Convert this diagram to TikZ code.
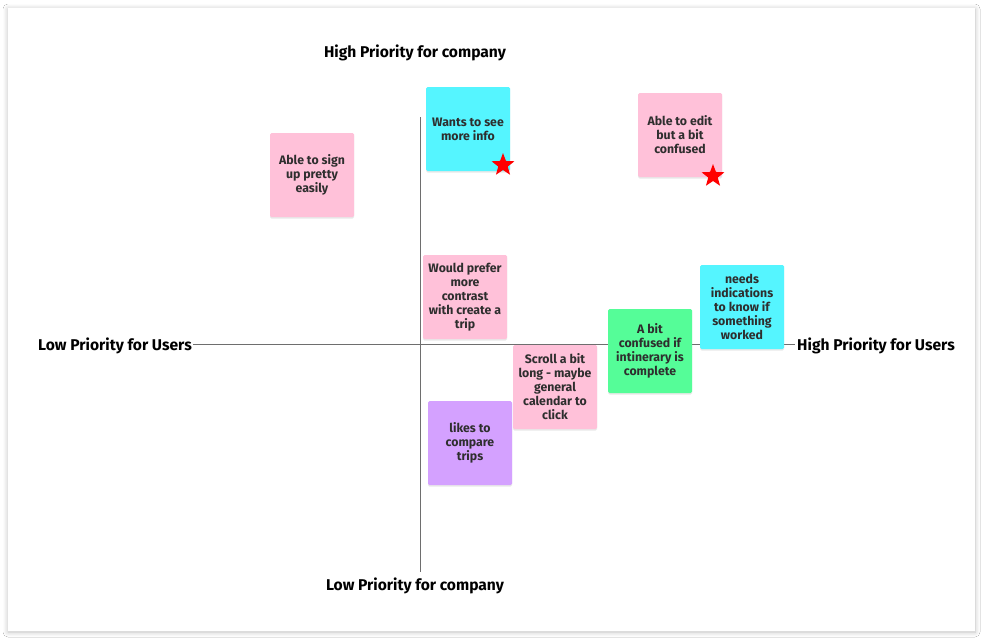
\documentclass[tikz,border=0pt]{standalone}
\usepackage{fontspec}
\setmainfont{Fira Sans}
\usetikzlibrary{shapes.geometric,shadows,shadows.blur}
\definecolor{notepink}{HTML}{FFC1D9}
\definecolor{notecyan}{HTML}{55F5FF}
\definecolor{notegreen}{HTML}{55FD98}
\definecolor{notepurple}{HTML}{D4A1FF}
\definecolor{notetext}{HTML}{2E2E2E}
\definecolor{axisgray}{HTML}{6E6E6E}
\tikzset{
  note/.style={rectangle, rounded corners=1.5pt, minimum width=84pt, minimum height=84pt,
    align=center, inner sep=2pt, font=\fontsize{12.3}{14}\selectfont\bfseries,
    text=notetext, drop shadow={opacity=0.18, shadow xshift=0pt, shadow yshift=-1.5pt}},
  axislabel/.style={font=\fontsize{15.6}{18}\selectfont\bfseries, text=black, inner sep=1pt},
  axisline/.style={draw=axisgray, line width=0.7pt},
  mark star/.style={star, star points=5, star point ratio=2.4, fill=red, draw=none,
    minimum size=24pt, inner sep=0pt}
}
\begin{document}
\begin{tikzpicture}[x=1pt, y=-1pt]
\useasboundingbox (0,0) rectangle (987,643);
\fill[white] (0,0) rectangle (987,643);
% board
\node[rectangle, fill=white, minimum width=967pt, minimum height=623pt, inner sep=0pt,
  blur shadow={shadow blur steps=8, shadow xshift=0pt, shadow yshift=-1pt, shadow blur radius=5pt, shadow opacity=25}]
  (board) at (491.5,319.5) {};
% axes
\coordinate (xl) at (193,344);
\coordinate (xr) at (795,344);
\coordinate (yt) at (420,117);
\coordinate (yb) at (420,572);
\draw[axisline] (xl) -- (xr);
\draw[axisline] (yt) -- (yb);
% axis labels
\node[axislabel] (ctop) at (415,53) {High Priority for company};
\node[axislabel] (cbot) at (415,586) {Low Priority for company};
\node[axislabel, anchor=east] (ulow) at (193,346) {Low Priority for Users};
\node[axislabel, anchor=west] (uhigh) at (796,346) {High Priority for Users};
% notes
\node[note, fill=notecyan] (n1) at (468,129) {Wants to see\\more info};
\node[note, fill=notepink] (n2) at (680,135) {Able to edit\\but a bit\\confused};
\node[note, fill=notepink] (n3) at (312,175) {Able to sign\\up pretty\\easily};
\node[note, fill=notepink] (n4) at (465,297) {Would prefer\\more\\contrast\\with create a\\trip};
\node[note, fill=notecyan] (n5) at (742,307) {needs\\indications\\to know if\\something\\worked};
\node[note, fill=notegreen] (n6) at (650,351) {A bit\\confused if\\intinerary is\\complete};
\node[note, fill=notepink] (n7) at (555,387) {Scroll a bit\\long - maybe\\general\\calendar to\\click};
\node[note, fill=notepurple] (n8) at (470,443) {likes to\\compare\\trips};
% stars
\node[mark star] (s1) at (503,165) {};
\node[mark star] (s2) at (713,176) {};
\end{tikzpicture}
\end{document}
